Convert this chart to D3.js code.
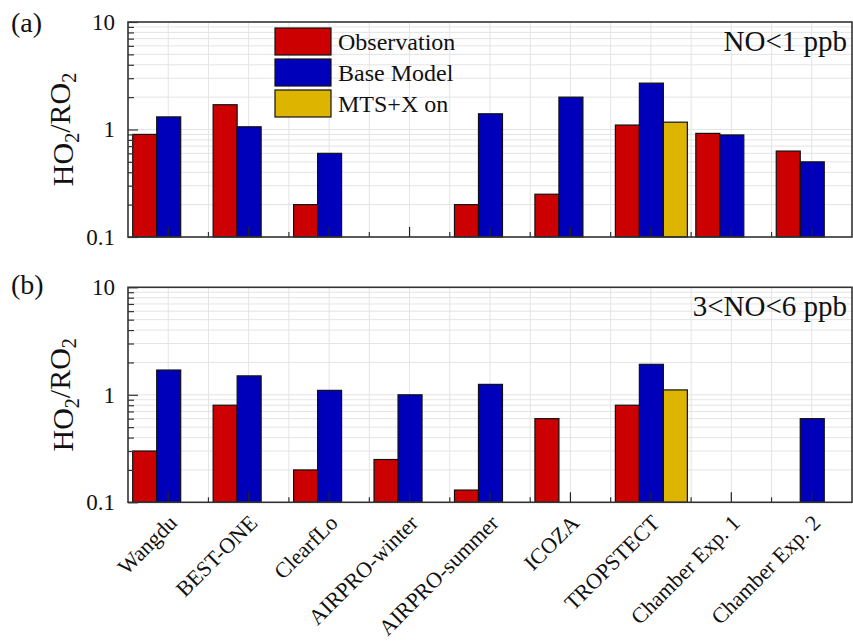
<!DOCTYPE html>
<html>
<head>
<meta charset="utf-8">
<script src="https://cdnjs.cloudflare.com/ajax/libs/d3/7.8.5/d3.min.js"></script>
<style>
  body { margin: 0; background: #fff; }
  text { font-family: "Liberation Serif", "Times New Roman", serif; fill: #111; }
</style>
</head>
<body>
<script>
// datos
var categorias = ["Wangdu", "BEST-ONE", "ClearfLo", "AIRPRO-winter", "AIRPRO-summer",
                  "ICOZA", "TROPSTECT", "Chamber Exp. 1", "Chamber Exp. 2"];
var series = ["Observation", "Base Model", "MTS+X on"];
var colores = ["#cc0000", "#0000bb", "#ddb400"];

// panel (a) NO<1 ppb  (null = sin dato)
var obsA  = [0.90, 1.70, 0.20, null, 0.20, 0.25, 1.10, 0.92, 0.63];
var baseA = [1.31, 1.06, 0.60, null, 1.40, 2.00, 2.70, 0.89, 0.50];
var mtsA  = [null, null, null, null, null, null, 1.17, null, null];

// panel (b) 3<NO<6 ppb
var obsB  = [0.30, 0.80, 0.20, 0.25, 0.13, 0.60, 0.80, null, null];
var baseB = [1.70, 1.50, 1.10, 1.00, 1.25, null, 1.92, null, 0.60];
var mtsB  = [null, null, null, null, null, null, 1.11, null, null];

var yTicks = [0.1, 1, 10];
var yMinor = [0.2,0.3,0.4,0.5,0.6,0.7,0.8,0.9,2,3,4,5,6,7,8,9];

var width = 853, height = 644;
var left = 128, right = 852, panelH = 215;

var svg = d3.select("body").append("svg")
    .attr("width", width).attr("height", height);

var x0 = d3.scaleBand().domain(categorias).range([left, right]).paddingInner(0).paddingOuter(0);
var x1 = d3.scaleBand().domain(series).range([4.7, 76.7]);

function pintarPanel(top, letra, nota, obs, base, mts, conLeyenda, conEtiquetas) {
    var bottom = top + panelH;
    var y = d3.scaleLog().domain([0.1, 10]).range([bottom, top]);
    var g = svg.append("g");

    // rejilla
    var grid = g.append("g").attr("stroke", "#e4e4e4").attr("stroke-width", 1);
    yMinor.concat([1]).forEach(function(v) {
        grid.append("line").attr("x1", left).attr("x2", right)
            .attr("y1", y(v)).attr("y2", y(v));
    });
    categorias.forEach(function(c, i) {
        var cx = x0(c) + x0.bandwidth() / 2;
        grid.append("line").attr("x1", cx).attr("x2", cx).attr("y1", top).attr("y2", bottom);
        if (i > 0) grid.append("line").attr("x1", x0(c)).attr("x2", x0(c)).attr("y1", top).attr("y2", bottom);
    });

    // barras
    var datos = [];
    categorias.forEach(function(c, i) {
        [obs, base, mts].forEach(function(arr, s) {
            if (arr[i] != null) datos.push({cat: c, serie: series[s], s: s, v: arr[i]});
        });
    });
    g.selectAll("rect.bar").data(datos).join("rect")
        .attr("class", "bar")
        .attr("x", function(d) { return x0(d.cat) + x1(d.serie); })
        .attr("width", x1.bandwidth())
        .attr("y", function(d) { return y(d.v); })
        .attr("height", function(d) { return bottom - y(d.v); })
        .attr("fill", function(d) { return colores[d.s]; })
        .attr("stroke", "#111").attr("stroke-width", 1.2);

    // ejes
    var ejeY = d3.axisLeft(y).tickValues(yTicks).tickSize(-10).tickPadding(13)
        .tickFormat(function(d) { return d === 0.1 ? "0.1" : String(d); });
    var gy = g.append("g").attr("transform", "translate(" + left + ",0)").call(ejeY);
    gy.select(".domain").remove();
    gy.selectAll("line").attr("stroke", "#333").attr("stroke-width", 1.2);
    gy.selectAll("text").style("font-size", "23px").style("font-family", "Liberation Serif, serif").attr("fill", "#111");

    var ejeYmenor = d3.axisLeft(y).tickValues(yMinor).tickSize(-6).tickFormat("");
    var gym = g.append("g").attr("transform", "translate(" + left + ",0)").call(ejeYmenor);
    gym.select(".domain").remove();
    gym.selectAll("line").attr("stroke", "#333").attr("stroke-width", 1.2);

    var ejeX = d3.axisBottom(x0).tickSize(-10).tickFormat("");
    var gx = g.append("g").attr("transform", "translate(0," + bottom + ")").call(ejeX);
    gx.select(".domain").remove();
    gx.selectAll("line").attr("stroke", "#222").attr("stroke-width", 1.2);
    categorias.forEach(function(c, i) {
        if (i > 0) g.append("line").attr("x1", x0(c)).attr("x2", x0(c))
            .attr("y1", bottom).attr("y2", bottom - 5).attr("stroke", "#333").attr("stroke-width", 1.2);
    });

    // marco
    g.append("rect").attr("x", left).attr("y", top).attr("width", right - left).attr("height", panelH)
        .attr("fill", "none").attr("stroke", "#333").attr("stroke-width", 1.6);

    // textos
    g.append("text").attr("x", 11).attr("y", top + (letra === "(a)" ? 10 : 7))
        .style("font-size", "28px").text(letra);

    g.append("text").attr("x", 847).attr("y", top + 29).attr("text-anchor", "end")
        .style("font-size", "29px").text(nota);

    var tt = g.append("text").attr("text-anchor", "middle")
        .attr("transform", "translate(73," + (top + panelH / 2) + ") rotate(-90)")
        .style("font-size", "30px");
    tt.append("tspan").text("HO");
    tt.append("tspan").attr("dy", "0.3em").style("font-size", "20px").text("2");
    tt.append("tspan").attr("dy", "-0.3em").text("/RO");
    tt.append("tspan").attr("dy", "0.3em").style("font-size", "20px").text("2");

    if (conLeyenda) {
        var ley = g.append("g").attr("transform", "translate(275," + (top + 6) + ")");
        series.forEach(function(s, i) {
            ley.append("rect").attr("x", 0).attr("y", i * 31).attr("width", 56).attr("height", 27)
                .attr("fill", colores[i]).attr("stroke", "#111").attr("stroke-width", 1.2);
            ley.append("text").attr("x", 63).attr("y", i * 31 + 22).style("font-size", "24px").text(s);
        });
    }

    if (conEtiquetas) {
        categorias.forEach(function(c) {
            var cx = x0(c) + x0.bandwidth() / 2;
            g.append("text").attr("text-anchor", "end")
                .attr("transform", "translate(" + (cx + 10) + "," + (bottom + 22) + ") rotate(-45)")
                .style("font-size", "22px").text(c);
        });
    }
}

pintarPanel(22, "(a)", "NO<1 ppb", obsA, baseA, mtsA, true, false);
pintarPanel(287.3, "(b)", "3<NO<6 ppb", obsB, baseB, mtsB, false, true);
</script>
</body>
</html>
